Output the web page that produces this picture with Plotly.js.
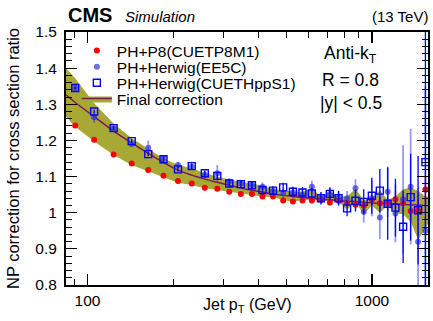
<!DOCTYPE html>
<html>
<head>
<meta charset="utf-8">
<script src="https://cdn.plot.ly/plotly-3.0.1.min.js"></script>
<style>html,body{margin:0;padding:0;background:#fff;}#chart{width:433px;height:321px;}</style>
</head>
<body>
<div id="chart"></div>
<script>
// Bin centres (GeV)
const ptCenters = [90.5,105.5,123.5,143,163.5,185,208,232.5,258.5,286,315,346,378.5,412.5,449,487.5,527.5,570,615,662,711.5,763.5,818,875.5,936,999.5,1066.5,1136.5,1210,1287.5,1368.5,1453.5,1542.5];

// PH+P8 (CUETP8M1)
const p8Vals = [1.241,1.202,1.161,1.136,1.118,1.102,1.088,1.081,1.069,1.066,1.058,1.052,1.052,1.045,1.045,1.034,1.031,1.034,1.034,1.036,1.028,1.033,1.026,1.022,1.019,1.035,1.026,1.026,1.037,1.026,1.005,1.006,1.064];
const p8Err = [0.002,0.002,0.002,0.002,0.002,0.002,0.002,0.002,0.002,0.003,0.003,0.003,0.003,0.004,0.004,0.005,0.005,0.006,0.006,0.007,0.008,0.009,0.01,0.012,0.014,0.016,0.018,0.02,0.022,0.025,0.028,0.03,0.035];

// PH+Herwig (EE5C)
const ee5cVals = [1.345,1.264,1.232,1.190,1.180,1.150,1.132,1.127,1.105,1.109,1.086,1.081,1.077,1.072,1.061,1.054,1.056,1.049,1.072,1.040,1.052,1.040,1.040,1.068,1.003,1.040,0.987,1.058,0.998,1.037,1.072,0.920,0.950];
const ee5cErr = [0.004,0.015,0.006,0.006,0.02,0.008,0.008,0.008,0.01,0.023,0.01,0.01,0.01,0.012,0.012,0.015,0.015,0.015,0.017,0.015,0.018,0.02,0.02,0.025,0.03,0.05,0.06,0.07,0.08,0.15,0.16,0.15,0.4];

// PH+Herwig (CUETHppS1)
const cuetVals = [1.345,1.280,1.234,1.198,1.162,1.148,1.120,1.129,1.109,1.102,1.081,1.079,1.076,1.063,1.061,1.070,1.058,1.056,1.053,1.040,1.052,1.040,1.012,1.033,1.030,1.047,1.061,1.025,1.014,0.961,1.043,1.007,1.140];
const cuetErr = [0.004,0.005,0.005,0.006,0.006,0.007,0.007,0.008,0.008,0.009,0.01,0.01,0.011,0.011,0.012,0.013,0.014,0.015,0.016,0.017,0.018,0.02,0.022,0.03,0.035,0.05,0.06,0.1,0.08,0.1,0.12,0.15,0.5];

// Final correction: central curve and band
const bandPt = [84,90.5,105.5,123.5,143,163.5,185,208,232.5,258.5,286,315,346,378.5,412.5,449,487.5,527.5,570,615,662,711.5,763.5,818,875.5,936,999.5,1066.5,1136.5,1210,1287.5,1368.5,1453.5,1542.5,1575];
const fitVals = [1.326,1.305,1.266,1.226,1.193,1.164,1.139,1.118,1.104,1.093,1.084,1.076,1.068,1.062,1.057,1.052,1.048,1.045,1.042,1.040,1.038,1.036,1.034,1.032,1.031,1.029,1.027,1.026,1.025,1.024,1.023,1.022,1.021,1.020,1.019];
const bandUpper = [1.400,1.372,1.303,1.247,1.206,1.178,1.150,1.132,1.123,1.109,1.100,1.091,1.086,1.081,1.075,1.065,1.063,1.058,1.058,1.067,1.044,1.058,1.045,1.045,1.066,1.035,1.040,1.062,1.035,1.045,1.065,1.070,1.060,1.045,1.045];
const bandLower = [1.266,1.238,1.197,1.160,1.132,1.114,1.098,1.083,1.077,1.068,1.063,1.058,1.052,1.049,1.045,1.043,1.035,1.030,1.035,1.035,1.035,1.032,1.030,1.008,1.030,0.995,1.020,1.000,1.020,1.000,0.995,0.975,0.925,0.955,0.970];

const seriesNames = ['PH+P8(CUETP8M1)','PH+Herwig(EE5C)','PH+Herwig(CUETHppS1)','Final correction'];
const xTickVals = [100,1000];
const xTickText = ['100','1000'];
const xMinorVals = [90,200,300,400,500,600,700,800,900];

const bandColor = 'rgb(168,168,52)';
const fitColor = '#7a1a55';
const FONT = 'Liberation Sans, Arial, Helvetica, sans-serif';

const traces = [
  {x: bandPt.concat(bandPt.slice().reverse()), y: bandUpper.concat(bandLower.slice().reverse()),
   name: seriesNames[3], legend:'legend4',
   type:'scatter', mode:'lines', fill:'toself', fillcolor:bandColor, line:{width:0, color:bandColor},
   hoverinfo:'skip'},
  {x: bandPt, y: fitVals, name:' ', legend:'legend5', type:'scatter', mode:'lines',
   line:{color:fitColor, width:1.5, shape:'spline'}},
  {x: ptCenters, y: p8Vals, name: seriesNames[0], legend:'legend', type:'scatter', mode:'markers',
   marker:{symbol:'circle', size:6, color:'#ff0000'},
   error_y:{type:'data', array:p8Err, color:'rgba(255,0,0,0.6)', thickness:1.5, width:0}},
  {x: ptCenters, y: ee5cVals, name: seriesNames[1], legend:'legend2', type:'scatter', mode:'markers',
   marker:{symbol:'circle', size:6, color:'rgba(50,50,225,0.7)'},
   error_y:{type:'data', array:ee5cErr, color:'rgba(50,50,225,0.5)', thickness:1.8, width:0}},
  {x: ptCenters, y: cuetVals, name: seriesNames[2], legend:'legend3', type:'scatter', mode:'markers',
   marker:{symbol:'square-open', size:7, color:'#0000ff', line:{width:1.4, color:'#0000ff'}},
   error_y:{type:'data', array:cuetErr, color:'#0000ff', thickness:1.3, width:0}}
];

function leg(yc) {
  return {x:0.03, y:yc, xanchor:'left', yanchor:'middle', bgcolor:'rgba(0,0,0,0)',
          font:{family:FONT, size:15.5}, itemwidth:30, tracegroupgap:0};
}

const layout = {
  width:433, height:321,
  margin:{l:66, r:5, t:32, b:36},
  paper_bgcolor:'#fff', plot_bgcolor:'#fff',
  font:{family:FONT, color:'#000', size:15},
  showlegend:true,
  legend: leg(0.925),
  legend2: leg(0.861),
  legend3: leg(0.798),
  legend4: leg(0.735),
  legend5: leg(0.735),
  xaxis:{type:'log', range:[Math.log10(84), Math.log10(1575)], showline:true, linecolor:'#000', linewidth:2,
         mirror:'allticks', ticks:'inside', ticklen:11, tickwidth:1.2, tickcolor:'#000',
         tickmode:'array', tickvals:xTickVals, ticktext:xTickText, showgrid:false, zeroline:false,
         tickfont:{size:15.5},
         minor:{tickmode:'array', tickvals:xMinorVals, ticks:'inside', ticklen:6, tickwidth:1, tickcolor:'#000', showgrid:false}},
  yaxis:{range:[0.8,1.5], showline:true, linecolor:'#000', linewidth:2, mirror:'allticks',
         ticks:'inside', ticklen:11, tickwidth:1.2, tickcolor:'#000', dtick:0.1, tick0:0.8,
         showgrid:false, zeroline:false, tickfont:{size:15.5}, ticklabelstandoff:4,
         minor:{dtick:0.02, ticks:'inside', ticklen:6, tickwidth:1, tickcolor:'#000', showgrid:false},
         title:{text:'NP correction for cross section ratio', font:{size:16.5}, standoff:12}},
  annotations:[
    {text:'Jet p<sub>T</sub> (GeV)', xref:'paper', yref:'paper', x:0.5, y:-0.083, xanchor:'center', yanchor:'middle', showarrow:false, font:{size:16}},
    {text:'<b>CMS</b>', xref:'paper', yref:'paper', x:0, y:1.067, xanchor:'left', yanchor:'middle', showarrow:false, font:{size:20}},
    {text:'<i>Simulation</i>', xref:'paper', yref:'paper', x:0.157, y:1.063, xanchor:'left', yanchor:'middle', showarrow:false, font:{size:15}},
    {text:'(13 TeV)', xref:'paper', yref:'paper', x:1.005, y:1.063, xanchor:'right', yanchor:'middle', showarrow:false, font:{size:15}},
    {text:'Anti-k<sub>T</sub>', xref:'paper', yref:'paper', x:0.787, y:0.91, xanchor:'center', yanchor:'middle', showarrow:false, font:{size:17.5}},
    {text:'R = 0.8', xref:'paper', yref:'paper', x:0.787, y:0.81, xanchor:'center', yanchor:'middle', showarrow:false, font:{size:17.5}},
    {text:'|y| &lt; 0.5', xref:'paper', yref:'paper', x:0.787, y:0.72, xanchor:'center', yanchor:'middle', showarrow:false, font:{size:17.5}}
  ]
};

Plotly.newPlot('chart', traces, layout, {staticPlot:true, displayModeBar:false});
</script>
</body>
</html>
